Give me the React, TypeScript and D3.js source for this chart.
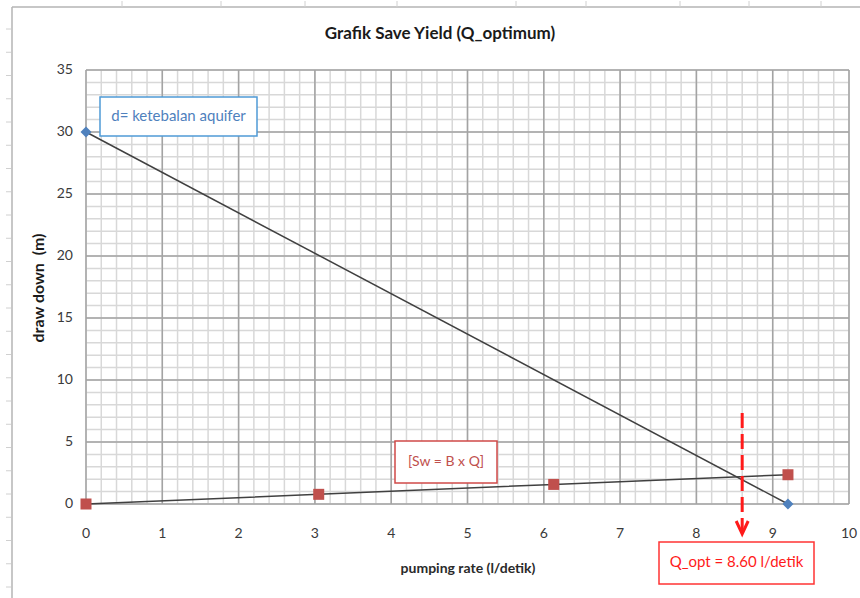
import React from "react";
import * as d3 from "d3";

const title = "Grafik Save Yield (Q_optimum)";
const xLabel = "pumping rate (l/detik)";
const yLabel = "draw down  (m)";
const xTicks = [0, 1, 2, 3, 4, 5, 6, 7, 8, 9, 10];
const yTicks = [0, 5, 10, 15, 20, 25, 30, 35];
const xMinor = d3.range(0, 10.001, 0.2);
const yMinor = d3.range(0, 35.001, 1);

// aquifer thickness line (blue diamonds)
const dX = [0, 9.2];
const dY = [30, 0];
// Sw = B x Q (red squares)
const swX = [0, 3.05, 6.13, 9.2];
const swY = [0, 0.78, 1.58, 2.36];

const qOpt = 8.6;
const qOptLabel = "Q_opt = 8.60 l/detik";
const dLabel = "d= ketebalan aquifer";
const swLabel = "[Sw = B x Q]";

// spreadsheet decoration
const sheetColTicks = [122, 221, 305, 397, 516, 586, 680, 749, 821];
const sheetRowTicks = d3.range(29, 598, 23.25);

const W = 860;
const H = 598;
const FONT = "Lato, 'Open Sans', sans-serif";

export default function App() {
  const x = d3.scaleLinear().domain([0, 10]).range([86, 849]);
  const y = d3.scaleLinear().domain([0, 35]).range([504, 70]);
  const line = d3
    .line<[number, number]>()
    .x((d) => x(d[0]))
    .y((d) => y(d[1]));
  const dPts: [number, number][] = dX.map((v, i) => [v, dY[i]]);
  const swPts: [number, number][] = swX.map((v, i) => [v, swY[i]]);

  const minorColor = "#d8d8d8";
  const majorColor = "#a3a3a3";
  const arrowX = x(qOpt);

  return (
    <svg
      width={W}
      height={H}
      style={{ position: "absolute", left: 0, top: 0, background: "#fff" }}
      fontFamily={FONT}
    >
      <rect x={0} y={0} width={W} height={H} fill="#fff" />
      {/* spreadsheet edges */}
      <line x1={12} y1={7} x2={W} y2={7} stroke="#b4b4b4" strokeWidth={1.5} />
      <line x1={12} y1={7} x2={12} y2={H} stroke="#b4b4b4" strokeWidth={1.5} />
      {sheetColTicks.map((t) => (
        <line key={"c" + t} x1={t} x2={t} y1={1} y2={7} stroke="#d0d0d0" strokeWidth={1} />
      ))}
      {sheetRowTicks.map((t) => (
        <line key={"r" + t} x1={6} x2={11} y1={t} y2={t} stroke="#d0d0d0" strokeWidth={1} />
      ))}

      {/* minor grid */}
      {xMinor.map((v) => (
        <line key={"xm" + v} x1={x(v)} x2={x(v)} y1={y(35)} y2={y(0)} stroke={minorColor} strokeWidth={1.5} />
      ))}
      {yMinor.map((v) => (
        <line key={"ym" + v} x1={x(0)} x2={x(10)} y1={y(v)} y2={y(v)} stroke={minorColor} strokeWidth={1.5} />
      ))}
      {/* major grid */}
      {xTicks.map((v) => (
        <line key={"xM" + v} x1={x(v)} x2={x(v)} y1={y(35)} y2={y(0)} stroke={majorColor} strokeWidth={1.5} />
      ))}
      {yTicks.map((v) => (
        <line key={"yM" + v} x1={x(0)} x2={x(10)} y1={y(v)} y2={y(v)} stroke={majorColor} strokeWidth={1.5} />
      ))}

      {/* tick labels */}
      {yTicks.map((v) => (
        <text key={"yl" + v} x={73} y={y(v)} textAnchor="end" dominantBaseline="middle" fontSize={14} fill="#3a3a3a">
          {v}
        </text>
      ))}
      {xTicks.map((v) => (
        <text key={"xl" + v} x={x(v)} y={534} textAnchor="middle" dominantBaseline="middle" fontSize={14} fill="#3a3a3a">
          {v}
        </text>
      ))}

      {/* title & axis labels */}
      <text x={440} y={35} textAnchor="middle" dominantBaseline="middle" fontSize={17} fontWeight="bold" fill="#1a1a1a">
        {title}
      </text>
      <text x={468} y={569} textAnchor="middle" dominantBaseline="middle" fontSize={14} fontWeight="bold" fill="#2a2a2a">
        {xLabel}
      </text>
      <text
        transform={`translate(40,288) rotate(-90)`}
        textAnchor="middle"
        dominantBaseline="middle"
        fontSize={16}
        fontWeight="bold"
        fill="#1a1a1a"
        style={{ whiteSpace: "pre" }}
      >
        {yLabel}
      </text>

      {/* series lines */}
      <path d={line(dPts) || ""} fill="none" stroke="#404040" strokeWidth={1.5} />
      <path d={line(swPts) || ""} fill="none" stroke="#404040" strokeWidth={1.5} />

      {/* markers */}
      {dPts.map((p, i) => (
        <path
          key={"dm" + i}
          d={`M${x(p[0])},${y(p[1]) - 5.5}L${x(p[0]) + 5.5},${y(p[1])}L${x(p[0])},${y(p[1]) + 5.5}L${x(p[0]) - 5.5},${y(p[1])}Z`}
          fill="#4f81bd"
        />
      ))}
      {swPts.map((p, i) => (
        <rect key={"sm" + i} x={x(p[0]) - 5.5} y={y(p[1]) - 5.5} width={11} height={11} fill="#c0504d" />
      ))}

      {/* annotation boxes */}
      <rect x={100} y={97} width={157} height={39} fill="#fff" stroke="#4f9ad6" strokeWidth={1.5} />
      <text x={178.5} y={117} textAnchor="middle" dominantBaseline="middle" fontSize={15} fill="#4f81bd">
        {dLabel}
      </text>

      <rect x={395} y={441} width={102} height={42} fill="#fff" stroke="#d04a48" strokeWidth={1.5} />
      <text x={446} y={462} textAnchor="middle" dominantBaseline="middle" fontSize={14} fill="#c0504d">
        {swLabel}
      </text>

      {/* Q_opt dashed arrow */}
      <line x1={arrowX} x2={arrowX} y1={413} y2={533} stroke="#ff1a1a" strokeWidth={3} strokeDasharray="15 6" />
      <path
        d={`M${arrowX - 6},${521}L${arrowX},${534}L${arrowX + 6},${521}`}
        fill="none"
        stroke="#ff1a1a"
        strokeWidth={3}
      />
      <rect x={659} y={542} width={155} height={42} fill="#fff" stroke="#ff3333" strokeWidth={1.5} />
      <text x={736.5} y={563} textAnchor="middle" dominantBaseline="middle" fontSize={15} fill="#ff1a1a">
        {qOptLabel}
      </text>
    </svg>
  );
}
